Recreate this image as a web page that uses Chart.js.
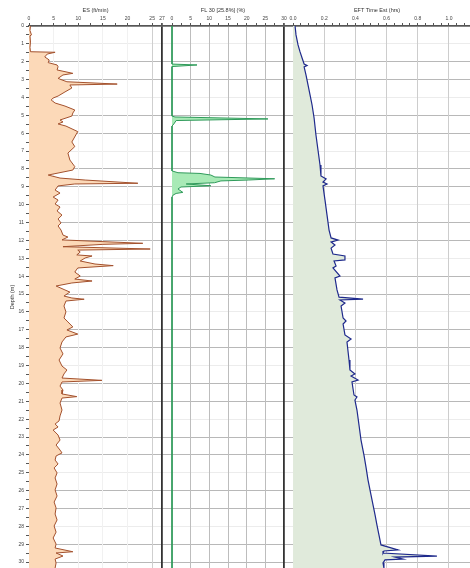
<!DOCTYPE html>
<html>
<head>
<meta charset="utf-8">
<title>Well log</title>
<script src="https://cdn.jsdelivr.net/npm/chart.js@4.4.1/dist/chart.umd.min.js"></script>
<style>
  html, body { margin: 0; padding: 0; background: #fff; overflow: hidden; }
</style>
</head>
<body>
<canvas id="logChart" width="470" height="568"></canvas>
<script>
/* ── DEPTH AXIS ── */
var DEPTH_TICKS = [0, 1, 2, 3, 4, 5, 6, 7, 8, 9, 10, 11, 12, 13, 14, 15, 16, 17, 18, 19, 20,
                   21, 22, 23, 24, 25, 26, 27, 28, 29, 30];

/* ── TRACK 1: ES (ft/min) ── */
var ES_TICKS = [0, 5, 10, 15, 20, 25, 27];
var ES_DEPTH = [0, 0.25, 0.5, 0.55, 0.9, 1.2, 1.44, 1.47, 1.57, 1.73,
                1.9, 2.05, 2.18, 2.28, 2.46, 2.65, 2.74, 2.93, 3.02, 3.12,
                3.25, 3.3, 3.47, 3.69, 3.92, 4.03, 4.14, 4.31, 4.48, 4.7,
                4.87, 5.04, 5.26, 5.37, 5.48, 5.6, 5.91, 6.1, 6.49, 6.75,
                7.11, 7.5, 7.87, 8.06, 8.34, 8.51, 8.62, 8.8, 8.84, 8.95,
                9.18, 9.35, 9.57, 9.74, 9.96, 10.13, 10.35, 10.58, 10.8, 11.02,
                11.19, 11.42, 11.7, 11.81, 11.97, 12.16, 12.22, 12.35, 12.48, 12.54,
                12.65, 12.81, 12.87, 12.98, 13.15, 13.32, 13.41, 13.54, 13.77, 13.99,
                14.16, 14.27, 14.38, 14.55, 14.77, 14.89, 15.11, 15.22, 15.29, 15.39,
                15.67, 16.0, 16.34, 16.56, 16.84, 17.01, 17.24, 17.4, 17.68, 18.02,
                18.35, 18.69, 19.03, 19.25, 19.47, 19.7, 19.83, 19.92, 20.15, 20.37,
                20.59, 20.74, 20.82, 21.1, 21.49, 21.82, 22.1, 22.27, 22.44, 22.61,
                22.89, 23.17, 23.45, 23.73, 23.89, 24.06, 24.29, 24.51, 24.73, 25.01,
                25.29, 25.63, 25.96, 26.3, 26.64, 26.97, 27.31, 27.64, 27.98, 28.32,
                28.65, 28.99, 29.21, 29.42, 29.49, 29.66, 29.83, 30.05, 30.33];
var ES_VAL   = [0.3, 0.2, 0.5, 0.2, 0.3, 0.2, 0.3, 5.3, 3.7, 3.2,
                4.1, 3.9, 5.7, 5.9, 5.7, 8.9, 6.9, 5.9, 6.7, 7.7,
                17.9, 8.3, 8.7, 7.3, 5.9, 4.9, 4.5, 5.3, 7.3, 9.3,
                8.9, 8.7, 6.3, 6.9, 5.9, 7.5, 9.9, 9.5, 8.7, 9.3,
                7.9, 8.3, 9.3, 8.9, 3.9, 6.3, 11.4, 22.1, 9.3, 5.9,
                5.3, 6.3, 4.9, 5.9, 5.3, 6.3, 5.7, 6.7, 5.9, 6.5,
                5.9, 6.5, 6.9, 7.9, 6.7, 23.1, 15.0, 6.9, 24.6, 9.9,
                10.4, 9.7, 12.8, 11.4, 10.4, 13.4, 17.1, 9.9, 9.3, 10.4,
                9.3, 12.8, 8.7, 5.5, 7.3, 8.3, 7.1, 8.7, 11.2, 7.5,
                7.1, 7.5, 7.1, 7.9, 8.9, 7.7, 9.9, 7.5, 6.7, 6.3,
                6.9, 6.1, 6.7, 7.7, 7.1, 6.7, 14.8, 6.7, 6.3, 6.9,
                6.7, 9.7, 6.7, 6.3, 6.7, 6.3, 6.1, 5.3, 5.9, 4.9,
                5.9, 6.3, 5.5, 6.3, 6.7, 5.5, 5.3, 5.9, 5.1, 5.7,
                5.3, 5.7, 5.3, 5.7, 5.1, 5.5, 5.3, 5.7, 5.1, 5.5,
                4.9, 5.5, 5.3, 8.9, 5.5, 6.9, 5.3, 5.5, 5.3];

/* ── TRACK 2: FL (%) ── */
var FL_TICKS = [0, 5, 10, 15, 20, 25, 30];
var FL_DEPTH = [0, 2.13, 2.18, 2.27, 5.04, 5.09, 5.2, 5.29, 5.48, 5.6,
                8.11, 8.21, 8.25, 8.34, 8.45, 8.55, 8.62, 8.67, 8.77, 8.84,
                8.94, 9.01, 9.12, 9.31, 9.37, 9.46, 9.57, 30.33];
var FL_VAL   = [0, 0, 6.7, 0, 0, 0.8, 25.7, 1.1, 0.5, 0,
                0, 1.6, 7.5, 10.4, 11.5, 27.5, 20.4, 13.1, 11.4, 3.8,
                10.4, 2.4, 1.6, 2.9, 1.1, 0.3, 0, 0];

/* ── TRACK 3: EFT time (hrs) ── */
var EFT_TICKS = [0, 0.2, 0.4, 0.6, 0.8, 1.0];
var EFT_DEPTH = [0, 0.5, 1.06, 1.45, 1.79, 2.13, 2.21, 2.29, 2.74, 3.3,
                 3.86, 4.42, 5.15, 6.1, 6.94, 7.78, 8.39, 8.56, 8.73, 8.84,
                 8.95, 9.74, 10.58, 11.42, 11.86, 11.98, 12.09, 12.26, 12.43, 12.76,
                 12.87, 13.09, 13.15, 13.43, 13.54, 13.99, 14.1, 14.77, 15.17, 15.28,
                 15.33, 15.5, 15.67, 16.34, 16.51, 16.68, 17.29, 17.52, 17.68, 18.69,
                 19.25, 19.47, 19.59, 19.81, 19.92, 20.65, 20.76, 20.93, 21.49, 22.33,
                 23.17, 24.01, 24.68, 25.41, 26.24, 26.8, 27.36, 27.92, 28.48, 29.04,
                 29.32, 29.38, 29.49, 29.66, 29.72, 29.83, 29.88, 30.05, 30.33];
var EFT_VAL   = [0.013, 0.019, 0.032, 0.045, 0.058, 0.071, 0.09, 0.071, 0.083, 0.096,
                 0.109, 0.122, 0.135, 0.147, 0.16, 0.173, 0.179, 0.212, 0.192, 0.218,
                 0.192, 0.205, 0.218, 0.231, 0.244, 0.288, 0.244, 0.269, 0.244, 0.256,
                 0.333, 0.333, 0.263, 0.276, 0.256, 0.301, 0.269, 0.282, 0.295, 0.449,
                 0.301, 0.333, 0.308, 0.321, 0.34, 0.321, 0.333, 0.372, 0.346, 0.359,
                 0.365, 0.397, 0.372, 0.417, 0.378, 0.391, 0.41, 0.397, 0.41, 0.423,
                 0.436, 0.455, 0.468, 0.481, 0.5, 0.513, 0.526, 0.538, 0.551, 0.564,
                 0.673, 0.583, 0.577, 0.923, 0.654, 0.705, 0.59, 0.577, 0.583];

var FONT = "'Liberation Sans', 'DejaVu Sans', sans-serif";
var CLEAR = "rgba(0,0,0,0)";

function near(a, b) { return Math.abs(a - b) < 1e-6; }
function isMajor(v, majors) {
  return majors.some(function (m) { return near(m, v); });
}
/* labelled ticks plus unlabelled minor marks every `step` */
function tickList(majors, step, upTo) {
  var vals = majors.slice();
  for (var i = 0; i * step <= upTo + 1e-9; i++) {
    var v = Math.round(i * step * 1000) / 1000;
    if (!isMajor(v, vals)) vals.push(v);
  }
  vals.sort(function (a, b) { return a - b; });
  return vals.map(function (v) { return { value: v }; });
}
function track(depths, vals) {
  return depths.map(function (d, i) { return { x: vals[i], y: d }; });
}

/* one log track header on top; tracks sit side by side in one stack */
function topAxis(o) {
  return {
    type: "linear", position: "top", stack: "tracks", stackWeight: o.width, weight: o.order,
    min: o.min, max: o.max, z: 1,
    title: { display: true, text: o.title, color: "#333",
             font: { family: FONT, size: 5.5 }, padding: { top: 7, bottom: 0 } },
    border: { display: true, color: "#555", width: 1.5 },
    grid: {
      color: function (c) {
        var v = c.tick ? c.tick.value : 0;
        return isMajor(v, o.majors) ? o.gridColor(v) : CLEAR;
      },
      lineWidth: function (c) { return c.tick && near(c.tick.value, o.edge) ? 1.8 : 1; },
      tickColor: "#555", tickLength: 3
    },
    ticks: {
      autoSkip: false, maxRotation: 0, padding: 1, color: "#444",
      font: { family: FONT, size: 5 },
      callback: function (v) { return isMajor(v, o.majors) ? o.fmt(v) : ""; }
    },
    afterBuildTicks: function (s) { s.ticks = tickList(o.majors, o.minor, o.minorTo); },
    afterFit: function (s) { s.height = 26; s.paddingLeft = 0; s.paddingRight = 0; }
  };
}

new Chart(document.getElementById("logChart"), {
  type: "line",
  data: {
    datasets: [
      {
        label: "ES (ft/min)", data: track(ES_DEPTH, ES_VAL),
        xAxisID: "x1", yAxisID: "y",
        borderColor: "#a3512d", borderWidth: 1,
        backgroundColor: "rgb(252, 217, 184)", fill: "origin"
      },
      {
        label: "FL 30 [25.8%] (%)", data: track(FL_DEPTH, FL_VAL),
        xAxisID: "x2", yAxisID: "y",
        borderColor: "#2f9a5a", borderWidth: 1,
        backgroundColor: "rgb(168, 234, 182)", fill: "origin"
      },
      {
        label: "EFT Time Est (hrs)", data: track(EFT_DEPTH, EFT_VAL),
        xAxisID: "x3", yAxisID: "y",
        borderColor: "#1f2a8c", borderWidth: 1.2,
        backgroundColor: "rgb(224, 234, 219)", fill: "origin"
      }
    ]
  },
  options: {
    responsive: false,
    animation: false,
    indexAxis: "y",
    layout: { padding: 0 },
    elements: { point: { radius: 0, hoverRadius: 0 }, line: { tension: 0 } },
    plugins: { legend: { display: false } },
    scales: {
      y: {
        type: "linear", position: "left", reverse: true, min: 0, max: 30.33, z: 1,
        title: { display: true, text: "Depth (m)", color: "#333",
                 font: { family: FONT, size: 5.5 }, padding: { top: 9.5, bottom: 0 } },
        border: { color: "#999", width: 1 },
        grid: {
          color: function (c) {
            var v = c.tick ? c.tick.value : 0;
            if (!isMajor(v, DEPTH_TICKS)) return CLEAR;
            return v % 3 === 1 ? "#ececec" : "#b8b8b8";
          },
          tickColor: "#555", tickLength: 3
        },
        ticks: {
          autoSkip: false, padding: 2, color: "#444",
          font: { family: FONT, size: 5 },
          callback: function (v) { return isMajor(v, DEPTH_TICKS) ? String(v) : ""; }
        },
        afterBuildTicks: function (s) { s.ticks = tickList(DEPTH_TICKS, 0.5, 30); },
        afterFit: function (s) { s.width = 29; s.paddingTop = 0; s.paddingBottom = 0; }
      },
      x1: topAxis({
        title: "ES (ft/min)", majors: ES_TICKS, minor: 2.5, minorTo: 25,
        min: 0, max: 27, width: 133, order: 3, edge: 27,
        fmt: function (v) { return String(v); },
        gridColor: function (v) {
          if (v === 0) return CLEAR;
          if (v === 27) return "#333";
          return v === 25 ? "#cfcfcf" : "#f1f1f1";
        }
      }),
      x2: topAxis({
        title: "FL 30 [25.8%] (%)", majors: FL_TICKS, minor: 2.5, minorTo: 30,
        min: -2.68, max: 30, width: 122, order: 2, edge: 30,
        fmt: function (v) { return String(v); },
        gridColor: function (v) {
          if (v === 0) return CLEAR;
          return v === 30 ? "#333" : "#bdbdbd";
        }
      }),
      x3: topAxis({
        title: "EFT Time Est (hrs)", majors: EFT_TICKS, minor: 0.05, minorTo: 1.1,
        min: -0.058, max: 1.135, width: 186, order: 1, edge: -1,
        fmt: function (v) { return v.toFixed(1); },
        gridColor: function (v) { return v === 0 ? CLEAR : "#cdcdcd"; }
      })
    }
  }
});
</script>
</body>
</html>
